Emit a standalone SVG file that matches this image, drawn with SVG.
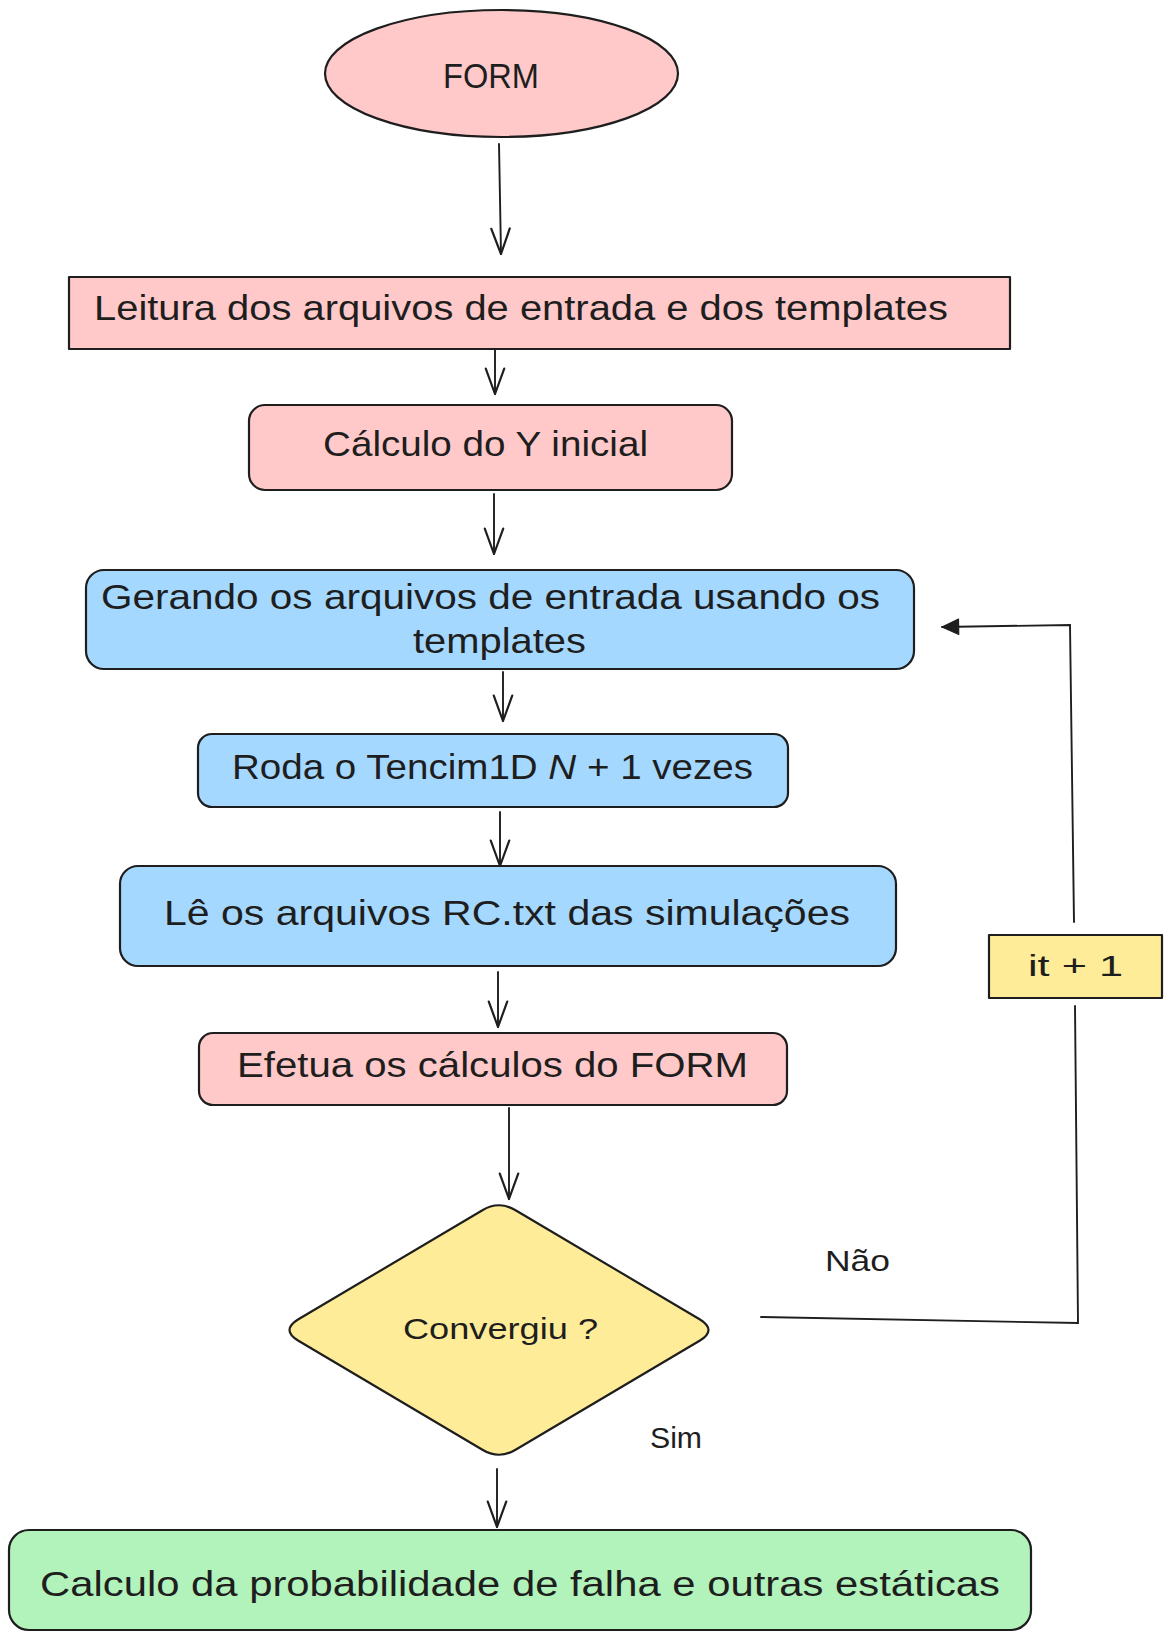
<svg xmlns="http://www.w3.org/2000/svg" width="1171" height="1640" viewBox="0 0 1171 1640">
<style>
.shape{stroke:#1e1e1e;stroke-width:2.2;stroke-linejoin:round}
.pink{fill:#ffc9c9}
.blue{fill:#a5d8ff}
.yellow{fill:#ffec99}
.green{fill:#b2f2bb}
.t{font-family:"Liberation Sans","DejaVu Sans",sans-serif;fill:#1e1e1e;font-size:35px}
.s{font-size:30px}
.edge{fill:none;stroke:#1e1e1e;stroke-width:1.9;stroke-linecap:round}
</style>
<defs>
<marker id="open" markerUnits="userSpaceOnUse" markerWidth="30" markerHeight="30" viewBox="-24 -12 26 24" refX="0" refY="0" orient="auto">
<path d="M-22,-8 L0,0 L-22,8" fill="none" stroke="#1e1e1e" stroke-width="1.9" stroke-linecap="round" stroke-linejoin="round"/>
</marker>
<marker id="solid" markerUnits="userSpaceOnUse" markerWidth="20" markerHeight="20" viewBox="-16 -9 18 18" refX="0" refY="0" orient="auto">
<path d="M-15,-7 L0,0 L-15,7 Z" fill="#1e1e1e" stroke="#1e1e1e" stroke-width="1" stroke-linejoin="round"/>
</marker>
</defs>

<g id="connectors">
<path class="edge" d="M499,144 L501,254" stroke-width="2.5" marker-end="url(#open)"/>
<path class="edge" d="M495,350 L495,394" marker-end="url(#open)"/>
<path class="edge" d="M494,494 L494,554" stroke-width="2.2" marker-end="url(#open)"/>
<path class="edge" d="M503,672 L503,721" marker-end="url(#open)"/>
<path class="edge" d="M500,812 L500,866" stroke-width="2.3" marker-end="url(#open)"/>
<path class="edge" d="M498,972 L498,1027" stroke-width="2.2" marker-end="url(#open)"/>
<path class="edge" d="M509,1108 L509,1199" stroke-width="2.1" marker-end="url(#open)"/>
<path class="edge" d="M497,1469 L497,1527" marker-end="url(#open)"/>
<path class="edge" d="M761,1317 L1078,1323 L1075,1006"/>
<path class="edge" d="M1074,922 L1070,625 L942,627" marker-end="url(#solid)"/>
<text class="t s" x="825" y="1271" textLength="65" lengthAdjust="spacingAndGlyphs">Não</text>
<text class="t s" x="650" y="1448" textLength="52" lengthAdjust="spacingAndGlyphs">Sim</text>
</g>

<g id="node-form">
<ellipse class="shape pink" cx="501.5" cy="73.5" rx="176.5" ry="63.5"/>
<text class="t" x="443" y="88" font-size="31" textLength="96" lengthAdjust="spacingAndGlyphs">FORM</text>
</g>

<g id="node-leitura">
<rect class="shape pink" x="69" y="277" width="941" height="72"/>
<text class="t" x="94" y="320" textLength="854" lengthAdjust="spacingAndGlyphs">Leitura dos arquivos de entrada e dos templates</text>
</g>

<g id="node-calculo-y">
<rect class="shape pink" x="249" y="405" width="483" height="85" rx="16"/>
<text class="t" x="323" y="456" textLength="325" lengthAdjust="spacingAndGlyphs">Cálculo do Y inicial</text>
</g>

<g id="node-gerando">
<rect class="shape blue" x="86" y="570" width="828" height="99" rx="18"/>
<text class="t" x="101" y="609" textLength="779" lengthAdjust="spacingAndGlyphs">Gerando os arquivos de entrada usando os</text>
<text class="t" x="413" y="653" textLength="173" lengthAdjust="spacingAndGlyphs">templates</text>
</g>

<g id="node-roda">
<rect class="shape blue" x="198" y="734" width="590" height="73" rx="14"/>
<text class="t" x="232" y="779" textLength="521" lengthAdjust="spacingAndGlyphs">Roda o Tencim1D <tspan font-style="italic">N</tspan> + 1 vezes</text>
</g>

<g id="node-le">
<rect class="shape blue" x="120" y="866" width="776" height="100" rx="18"/>
<text class="t" x="164" y="925" textLength="686" lengthAdjust="spacingAndGlyphs">Lê os arquivos RC.txt das simulações</text>
</g>

<g id="node-efetua">
<rect class="shape pink" x="199" y="1033" width="588" height="72" rx="14"/>
<text class="t" x="237" y="1077" textLength="511" lengthAdjust="spacingAndGlyphs">Efetua os cálculos do FORM</text>
</g>

<g id="node-convergiu">
<path class="shape yellow" d="M482,1210.5 Q499,1200 516,1210.5 L700,1319.5 Q717,1330 700,1340.5 L516,1449.5 Q499,1460 482,1449.5 L298,1340.5 Q281,1330 298,1319.5 Z"/>
<text class="t s" x="403" y="1339" textLength="195" lengthAdjust="spacingAndGlyphs">Convergiu ?</text>
</g>

<g id="node-it">
<rect class="shape yellow" x="989" y="935" width="173" height="63"/>
<text class="t s" x="1028" y="976" textLength="95" lengthAdjust="spacingAndGlyphs">it + 1</text>
</g>

<g id="node-probabilidade">
<rect class="shape green" x="9" y="1530" width="1022" height="100" rx="20"/>
<text class="t" x="40" y="1596" font-size="36" textLength="960" lengthAdjust="spacingAndGlyphs">Calculo da probabilidade de falha e outras estáticas</text>
</g>
</svg>
